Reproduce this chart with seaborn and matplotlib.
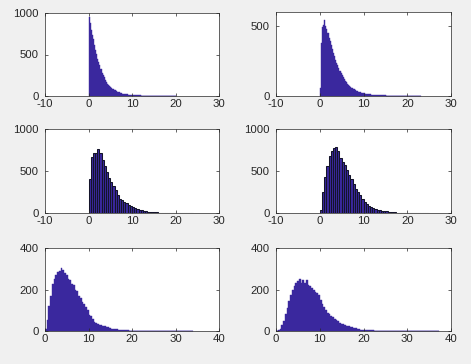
import numpy as np
import pandas as pd
import matplotlib
matplotlib.use("Agg")
import matplotlib.pyplot as plt
import seaborn as sns

# ---------------- data (bin counts) ----------------
tl_start, tl_width = 0.0, 0.25
tl_counts = [950, 880, 800, 740, 690, 620, 560, 510, 450, 410,
             370, 320, 280, 255, 225, 195, 170, 150, 135, 120,
             105, 95, 85, 75, 68, 60, 54, 48, 43, 38,
             34, 30, 27, 24, 21, 19, 17, 15, 13, 12,
             11, 10, 9, 9, 8, 8, 7, 7, 6, 6,
             5, 5, 5, 4, 4, 4, 4, 3, 3, 3,
             3, 3, 3, 2, 2, 2, 2, 2, 2, 2,
             2, 2, 1, 1, 1, 1, 1, 1, 1, 1]

tr_start, tr_width = 0.0, 0.25
tr_counts = [60, 380, 490, 510, 545, 500, 475, 450, 415, 390,
             365, 335, 305, 285, 260, 235, 218, 198, 180, 163,
             148, 133, 120, 108, 98, 88, 80, 72, 65, 59,
             53, 48, 43, 39, 35, 32, 29, 26, 23, 21,
             19, 17, 16, 14, 13, 12, 11, 10, 9, 8,
             8, 7, 7, 6, 6, 5, 5, 5, 4, 4,
             4, 3, 3, 3, 3, 3, 2, 2, 2, 2,
             2, 2, 2, 2, 1, 1, 1, 1, 1, 1,
             1, 1, 1, 1, 1, 1, 1, 1, 1, 1,
             1, 1, 1]

ml_start, ml_width = 0.0, 0.5
ml_counts = [400, 670, 710, 720, 765, 720, 630, 560, 490, 420,
             370, 320, 275, 220, 165, 150, 130, 115, 95, 80,
             68, 55, 45, 38, 30, 25, 20, 16, 13, 10,
             8, 6, 5, 4, 3, 3, 2, 2, 2, 1,
             1, 1, 1, 1, 1, 1, 1, 1]

mr_start, mr_width = 0.0, 0.5
mr_counts = [30, 250, 430, 560, 680, 740, 770, 790, 740, 660,
             610, 570, 510, 450, 400, 340, 290, 250, 220, 170,
             130, 110, 85, 70, 55, 48, 40, 32, 28, 22,
             18, 14, 12, 9, 7, 5, 4, 3, 3, 2,
             2, 2, 1, 1, 1, 1, 1, 1, 1, 1]

bl_start, bl_width = 0.0, 0.4
bl_counts = [12, 55, 120, 170, 225, 250, 272, 285, 290, 305,
             292, 278, 270, 250, 244, 226, 220, 200, 192, 170,
             160, 140, 132, 118, 100, 78, 72, 60, 45, 38,
             33, 30, 28, 26, 23, 21, 18, 15, 12, 10,
             9, 8, 6, 5, 5, 4, 3, 3, 2, 2,
             2, 2, 2, 2, 1, 1, 1, 1, 1, 1,
             1, 1, 1, 1, 1, 1, 1, 1, 1, 1,
             1, 1, 1, 1, 1, 1, 1, 1, 1, 1,
             1, 1, 1, 1, 1]

br_start, br_width = 0.0, 0.4
br_counts = [0, 3, 12, 27, 50, 80, 112, 145, 175, 200,
             215, 232, 240, 252, 230, 245, 232, 246, 220, 215,
             205, 198, 190, 182, 172, 150, 130, 118, 100, 88,
             80, 74, 66, 60, 54, 46, 40, 35, 32, 28,
             26, 23, 20, 17, 15, 13, 10, 8, 7, 5,
             5, 4, 4, 3, 3, 3, 2, 2, 2, 2,
             1, 1, 1, 1, 1, 1, 1, 1, 1, 1,
             1, 1, 1, 1, 1, 1, 1, 1, 1, 1,
             1, 1, 1, 1, 1, 1, 1, 1, 1, 1,
             1, 1, 1]

xticks_top = [-10, 0, 10, 20, 30]
xticks_bot = [0, 10, 20, 30, 40]
yticks_1000 = [0, 500, 1000]
yticks_600 = [0, 500]
yticks_400 = [0, 200, 400]

# ---------------- figure ----------------
plt.rcParams['font.family'] = ['Liberation Sans', 'DejaVu Sans']
plt.rcParams['axes.unicode_minus'] = False

W, H = 471, 364
fig = plt.figure(figsize=(W / 100, H / 100), dpi=100, facecolor='#f0f0f0')

FACE = '#3a289e'
TXT = '#262626'


def make_ax(left, right, top, bottom):
    return fig.add_axes([left / W, 1 - bottom / H, (right - left) / W, (bottom - top) / H])


panels = [
    # counts, start, width, rect, xlim, xticks, ylim, yticks, black edges
    (tl_counts, tl_start, tl_width, (45, 219, 13, 96), (-10, 30), xticks_top, (0, 1000), yticks_1000, False),
    (tr_counts, tr_start, tr_width, (276, 451, 12, 96), (-10, 30), xticks_top, (0, 600), yticks_600, False),
    (ml_counts, ml_start, ml_width, (45, 219, 129, 213), (-10, 30), xticks_top, (0, 1000), yticks_1000, True),
    (mr_counts, mr_start, mr_width, (276, 451, 129, 213), (-10, 30), xticks_top, (0, 1000), yticks_1000, True),
    (bl_counts, bl_start, bl_width, (45, 219, 248, 331), (0, 40), xticks_bot, (0, 400), yticks_400, False),
    (br_counts, br_start, br_width, (276, 451, 248, 331), (0, 40), xticks_bot, (0, 400), yticks_400, False),
]

for counts, start, width, rect, xlim, xt, ylim, yt, edged in panels:
    ax = make_ax(*rect)
    ax.set_facecolor('white')
    n = len(counts)
    centers = start + width * (np.arange(n) + 0.5)
    df = pd.DataFrame({'x': centers, 'w': np.asarray(counts, dtype=float)})
    brange = (start, start + width * n)
    if edged:
        sns.histplot(data=df, x='x', weights='w', binwidth=width, binrange=brange, ax=ax,
                     element='bars', color=FACE, alpha=1, edgecolor='#14142a', linewidth=0.75)
    else:
        sns.histplot(data=df, x='x', weights='w', binwidth=width, binrange=brange, ax=ax,
                     element='step', fill=True, color=FACE, alpha=1, edgecolor=FACE, linewidth=0.3)
    ax.set_xlim(*xlim)
    ax.set_ylim(*ylim)
    ax.set_xticks(xt)
    ax.set_yticks(yt)
    ax.set_xlabel('')
    ax.set_ylabel('')
    ax.tick_params(direction='in', length=2.5, width=0.5, colors=TXT,
                   top=True, right=True, labelsize=8.2)
    ax.tick_params(axis='x', pad=2.2)
    ax.tick_params(axis='y', pad=4.6)
    for s in ax.spines.values():
        s.set_color(TXT)
        s.set_linewidth(0.5)

fig.savefig('out.png', dpi=100, facecolor=fig.get_facecolor())
